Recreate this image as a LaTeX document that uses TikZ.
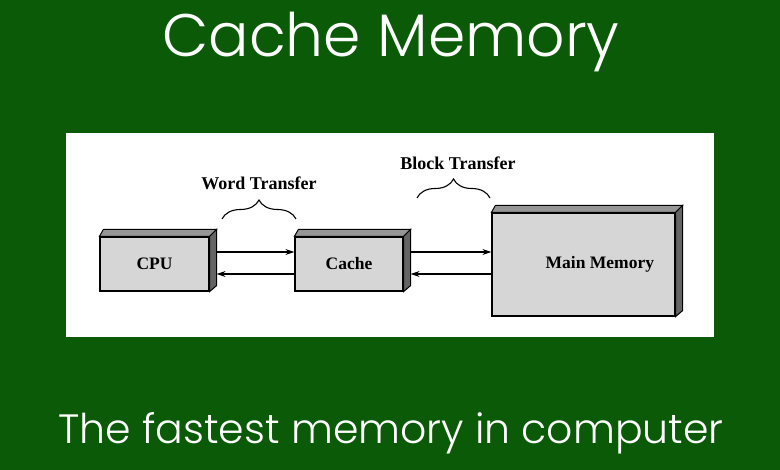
\documentclass[tikz,border=0pt]{standalone}
\usepackage{fontspec}
\setmainfont{Liberation Serif}
\newfontfamily\headfont{Poppins Light}
\usetikzlibrary{arrows.meta,decorations.pathreplacing}

\definecolor{bggreen}{RGB}{11,90,8}
\definecolor{frontgray}{RGB}{214,214,214}
\definecolor{topgray}{RGB}{150,150,150}
\definecolor{sidegray}{RGB}{100,100,100}

\tikzset{
  unit/.style={draw=black, line width=1.2pt, fill=frontgray, inner sep=0pt,
    font=\fontsize{17.5}{20}\selectfont\bfseries},
  lbl/.style={font=\fontsize{18}{20}\selectfont\bfseries},
  xfer/.style={line width=1.2pt, -{Stealth[length=9pt,width=6pt]}},
  curly/.style={line width=1.1pt, decorate, decoration={brace, amplitude=19pt, aspect=0.5}}
}

% top and side of a box
\newcommand{\boxfaces}[1]{%
  \fill[topgray, draw=black, line width=1pt] (#1.north west) -- ++(4,-7) -| ([xshift=7pt,yshift=7pt]#1.north east) -- (#1.north east) -- cycle;
  \fill[sidegray, draw=black, line width=1pt] (#1.north east) -- ++(7,-7) |- ([xshift=7pt,yshift=6pt]#1.south east) -- (#1.south east) -- cycle;
}

\begin{document}
\begin{tikzpicture}[x=1pt, y=-1pt]
  \fill[bggreen] (0,0) rectangle (780,470);
  \useasboundingbox (0,0) rectangle (780,470);
  \fill[white] (66,133) rectangle (714,337);

  \node[white, font=\headfont\fontsize{60}{68}\selectfont] (title) at (391,42) {Cache Memory};
  \node[white, font=\headfont\fontsize{41}{46}\selectfont] (subtitle) at (391,433) {The fastest memory in computer};

  \node[unit, minimum width=109pt, minimum height=54pt] (cpu) at (154.5,264) {CPU};
  \node[unit, minimum width=108pt, minimum height=54pt] (cache) at (349,264) {Cache};
  \node[unit, minimum width=183pt, minimum height=103pt] (mem) at (583.5,264.5) {};
  \node[font=\fontsize{17.5}{20}\selectfont\bfseries, anchor=east] (memtext) at ([xshift=-18pt]mem.east) {Main Memory};

  % transfers
  \draw[xfer] ([yshift=12pt]cpu.east) -- ([yshift=12pt]cache.west);
  \draw[xfer] ([yshift=-10pt]cache.west) -- ([xshift=7pt,yshift=-10pt]cpu.east);
  \draw[xfer] ([xshift=7pt,yshift=12pt]cache.east) -- ([yshift=12pt]mem.west |- cache.east);
  \draw[xfer] ([yshift=-10pt]mem.west |- cache.east) -- ([xshift=7pt,yshift=-10pt]cache.east);

  \boxfaces{cpu}
  \boxfaces{cache}
  \boxfaces{mem}

  % braces
  \coordinate (wl) at (222,219);
  \coordinate (wr) at (296,219);
  \coordinate (bl) at (417,198);
  \coordinate (br) at (490,198);
  \draw[curly] (wl) -- (wr);
  \draw[curly] (bl) -- (br);
  \node[lbl] (wordlbl) at (259,183) {Word Transfer};
  \node[lbl] (blocklbl) at (458,163) {Block Transfer};
\end{tikzpicture}
\end{document}
